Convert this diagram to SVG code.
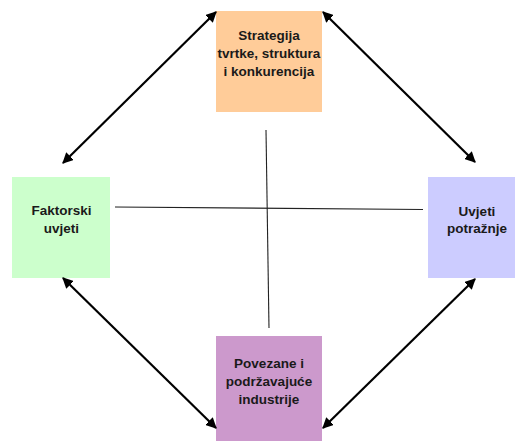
<svg xmlns="http://www.w3.org/2000/svg" width="515" height="441" viewBox="0 0 515 441">
<defs>
<style>
.lbl{font-family:"Liberation Sans",Arial,sans-serif;font-weight:bold;font-size:13.5px;fill:#1a1a1a;text-anchor:middle}
.arr{stroke:#000;stroke-width:2.2;fill:none;marker-start:url(#ah);marker-end:url(#ah)}
.axis{stroke:#222;stroke-width:1.1;fill:none}
</style>
<marker id="ah" viewBox="0 0 10 10" refX="9" refY="5" markerWidth="5" markerHeight="5" orient="auto-start-reverse" markerUnits="strokeWidth">
<path d="M0,0 L10,5 L0,10 z" fill="#000"/>
</marker>
</defs>
<rect width="515" height="441" fill="#fff"/>
<g id="axes">
<line class="axis" x1="115" y1="207" x2="423" y2="209.5"/>
<line class="axis" x1="266" y1="130" x2="269" y2="328"/>
</g>
<g id="top">
<rect x="216" y="11" width="106" height="101" fill="#FFCC99"/>
<text class="lbl" x="269" y="40">Strategija</text>
<text class="lbl" x="269" y="58">tvrtke, struktura</text>
<text class="lbl" x="269" y="76">i konkurencija</text>
</g>
<g id="left">
<rect x="12" y="177" width="98" height="101" fill="#CCFFCC"/>
<text class="lbl" x="61.5" y="215">Faktorski</text>
<text class="lbl" x="61.5" y="233">uvjeti</text>
</g>
<g id="right">
<rect x="428" y="177" width="87" height="101" fill="#CCCCFF"/>
<text class="lbl" x="477" y="216">Uvjeti</text>
<text class="lbl" x="477" y="233">potražnje</text>
</g>
<g id="bottom">
<rect x="216" y="336" width="106" height="105" fill="#CC99CC"/>
<text class="lbl" x="269" y="368">Povezane i</text>
<text class="lbl" x="269" y="386">podržavajuće</text>
<text class="lbl" x="269" y="404">industrije</text>
</g>
<g id="connectors">
<line class="arr" x1="63" y1="163" x2="216" y2="12"/>
<line class="arr" x1="323" y1="12" x2="475" y2="162"/>
<line class="arr" x1="63" y1="278" x2="216" y2="428"/>
<line class="arr" x1="323" y1="428" x2="475" y2="279"/>
</g>
</svg>
